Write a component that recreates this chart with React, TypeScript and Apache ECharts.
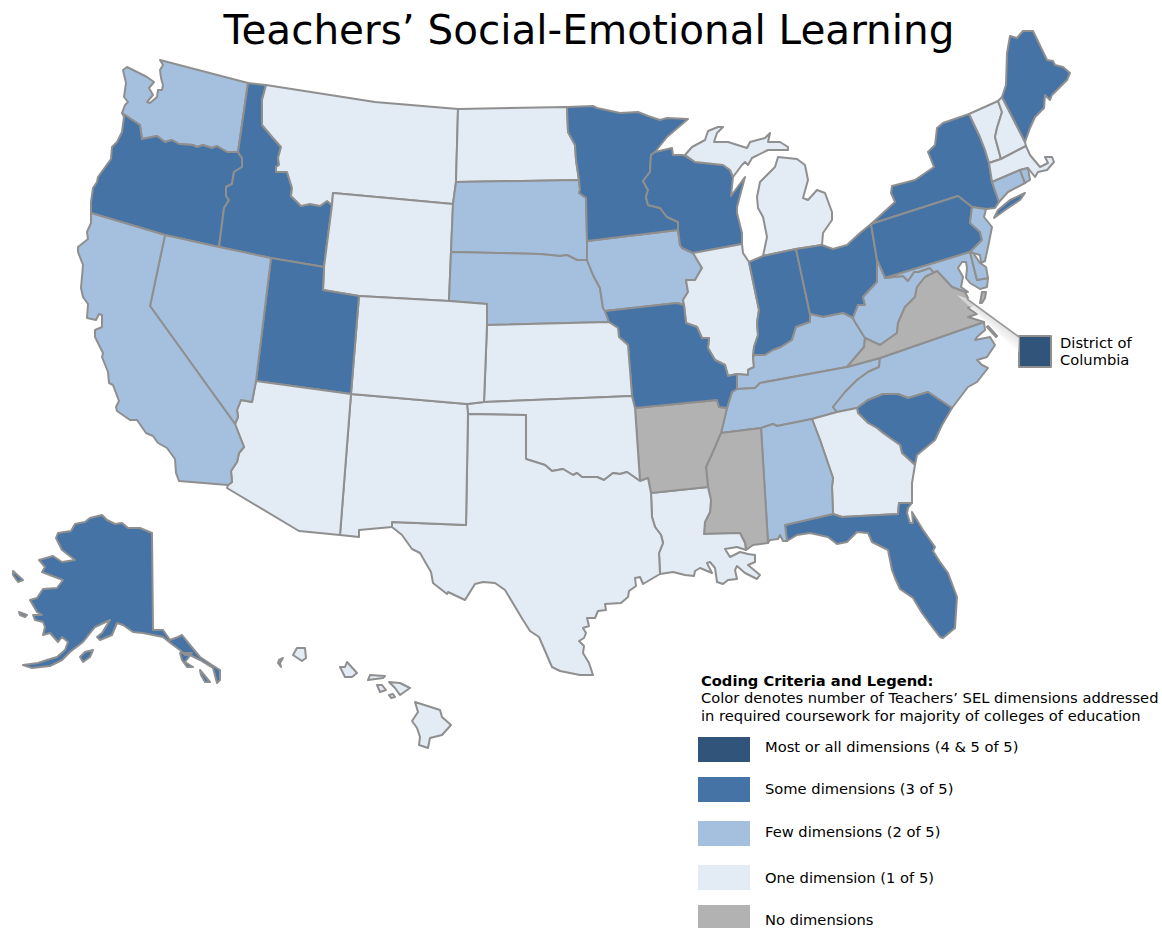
import React, { useEffect, useRef } from "react";
import * as echarts from "echarts";

type Pt = [number, number];

const TITLE = "Teachers’ Social-Emotional Learning";
const LEGEND_HEAD = "Coding Criteria and Legend:";
const LEGEND_SUB = [
  "Color denotes number of Teachers’ SEL dimensions addressed",
  "in required coursework for majority of colleges of education",
];
const LEGEND_LABELS = [
  "Most or all dimensions (4 & 5 of 5)",
  "Some dimensions (3 of 5)",
  "Few dimensions (2 of 5)",
  "One dimension (1 of 5)",
  "No dimensions",
];
const COLORS = ["#31547A", "#4573A5", "#A5C0DF", "#E3EBF5", "#B2B2B2"];

const mostStates = ["DC"];
const someStates = ["OR", "ID", "UT", "MN", "WI", "MO", "IN", "OH", "PA", "NY", "ME", "SC", "FL", "AK"];
const fewStates = ["WA", "CA", "NV", "SD", "NE", "IA", "KY", "WV", "TN", "NC", "AL", "MD", "DE", "NJ", "CT", "RI"];
const oneStates = ["MT", "ND", "WY", "CO", "KS", "OK", "TX", "NM", "AZ", "LA", "IL", "MI", "GA", "HI", "VT", "NH", "MA"];
const noneStates = ["AR", "MS", "VA"];

// Outlines, in page pixels.
const outlines: Record<string, Pt[][]> = {
  WA: [[[160,60],[163,65],[160,70],[161,78],[163,85],[162,90],[158,90],[157,97],[150,103],[147,102],[153,95],[149,88],[154,82],[147,77],[127,67],[123,70],[126,83],[124,97],[128,102],[125,105],[122,113],[140,125],[142,139],[157,136],[165,142],[172,140],[179,144],[193,145],[197,147],[203,145],[212,148],[217,146],[227,152],[238,152],[248,83]]],
  OR: [[[122,113],[140,125],[142,139],[157,136],[165,142],[172,140],[179,144],[193,145],[197,147],[203,145],[212,148],[217,146],[227,152],[238,152],[242,158],[242,167],[234,172],[232,184],[226,187],[226,196],[229,200],[224,208],[219,247],[165,235],[91,213],[91,202],[93,188],[97,182],[98,177],[111,159],[112,147],[117,142],[122,132],[124,117]]],
  ID: [[[248,83],[266,85],[262,100],[262,125],[273,138],[281,147],[278,158],[279,165],[276,167],[276,172],[287,172],[292,188],[291,196],[301,206],[310,204],[320,206],[327,201],[332,205],[324,267],[271,258],[219,247],[224,208],[229,200],[226,196],[226,187],[232,184],[234,172],[242,167],[242,158],[238,152]]],
  MT: [[[266,85],[375,102],[458,109],[456,182],[453,204],[333,193],[332,205],[327,201],[320,206],[310,204],[301,206],[291,196],[292,188],[287,172],[276,172],[276,167],[279,165],[278,158],[281,147],[273,138],[262,125],[262,100]]],
  WY: [[[333,193],[453,204],[451,252],[449,301],[359,296],[323,290],[324,267],[332,205]]],
  ND: [[[458,109],[567,107],[568,132],[575,145],[576,160],[579,180],[456,182]]],
  SD: [[[456,182],[579,180],[580,190],[579,193],[586,198],[587,241],[587,260],[577,260],[573,258],[567,255],[560,256],[540,254],[451,252],[453,204]]],
  NE: [[[451,252],[540,254],[560,256],[567,255],[573,258],[577,260],[587,260],[593,275],[600,288],[603,308],[605,311],[609,322],[487,325],[487,304],[449,301]]],
  IA: [[[587,241],[678,230],[680,245],[682,248],[693,253],[702,268],[695,280],[686,280],[688,292],[683,300],[684,305],[677,303],[605,311],[603,308],[600,288],[593,275],[587,260]]],
  MN: [[[567,107],[593,106],[597,108],[620,113],[638,112],[648,116],[660,120],[667,118],[688,119],[667,137],[655,152],[651,155],[650,172],[643,181],[648,190],[646,197],[648,205],[660,208],[667,217],[678,222],[678,230],[587,241],[586,198],[579,193],[580,190],[579,180],[576,160],[575,145],[568,132]]],
  WI: [[[655,152],[672,148],[673,155],[683,155],[695,162],[723,165],[730,170],[733,177],[731,196],[745,177],[737,207],[737,213],[742,233],[742,244],[693,253],[682,248],[680,245],[678,230],[678,222],[667,217],[660,208],[648,205],[646,197],[648,190],[643,181],[650,172],[651,155]]],
  MI: [
    [[685,155],[692,147],[705,140],[708,131],[718,127],[723,127],[717,133],[714,142],[728,142],[747,148],[750,142],[765,138],[770,133],[768,142],[780,142],[788,147],[788,150],[768,150],[752,158],[748,165],[745,162],[742,165],[733,177],[730,170],[723,165],[695,162]],
    [[778,157],[797,159],[805,165],[808,180],[803,198],[808,200],[817,190],[825,193],[832,212],[832,220],[823,233],[822,245],[796,249],[763,256],[767,237],[763,217],[758,208],[757,197],[760,182],[775,167]],
  ],
  IL: [[[693,253],[742,244],[743,253],[749,262],[759,310],[757,323],[758,335],[754,347],[753,357],[754,367],[748,370],[748,375],[737,374],[728,376],[725,365],[715,360],[708,348],[709,338],[702,338],[697,327],[686,323],[684,305],[683,300],[688,292],[686,280],[695,280],[702,268]]],
  IN: [[[749,262],[763,256],[796,249],[810,314],[810,322],[796,327],[792,340],[781,347],[773,350],[765,355],[755,355],[753,357],[754,347],[758,335],[757,323],[759,310]]],
  OH: [[[796,249],[822,245],[833,249],[847,245],[860,233],[871,224],[877,260],[877,282],[863,297],[865,305],[858,305],[853,318],[843,313],[823,317],[810,314]]],
  KY: [[[737,374],[748,375],[748,370],[754,367],[753,357],[755,355],[765,355],[773,350],[781,347],[792,340],[796,327],[810,322],[810,314],[823,317],[843,313],[853,318],[855,322],[865,338],[864,347],[847,367],[760,383],[755,388],[737,389]]],
  TN: [[[721,433],[761,428],[773,424],[777,426],[812,419],[837,412],[833,407],[845,392],[857,380],[868,372],[879,367],[880,358],[847,367],[760,383],[755,388],[737,389],[732,392],[727,408]]],
  NC: [
    [[837,412],[857,408],[868,400],[883,394],[898,394],[908,398],[928,392],[952,408],[968,387],[977,382],[988,368],[982,365],[977,360],[987,357],[995,345],[990,337],[975,340],[977,337],[985,330],[984,322],[880,358],[879,367],[868,372],[857,380],[845,392],[833,407]],
    [[988,326],[997,336],[996,337],[987,327]],
  ],
  SC: [[[857,408],[868,400],[883,394],[898,394],[908,398],[928,392],[952,408],[942,425],[935,440],[917,455],[915,465],[902,453],[900,445],[883,433],[877,428],[868,423],[858,413]]],
  GA: [[[812,419],[837,412],[857,408],[858,413],[868,423],[877,428],[883,433],[900,445],[902,453],[915,465],[912,483],[912,503],[899,503],[898,514],[842,517],[833,514],[832,487],[833,478],[820,440]]],
  FL: [
    [[785,525],[833,514],[842,517],[898,514],[899,503],[912,503],[908,508],[907,513],[910,523],[913,523],[912,512],[923,530],[935,547],[933,551],[940,562],[948,573],[957,597],[955,628],[943,638],[940,637],[933,628],[922,613],[913,598],[900,589],[895,578],[892,570],[888,550],[872,542],[868,533],[857,532],[847,542],[837,544],[828,537],[810,533],[797,535],[787,541]],
  ],
  AL: [[[761,428],[773,424],[777,426],[812,419],[820,440],[833,478],[832,487],[833,514],[785,525],[787,541],[783,541],[780,535],[778,539],[770,540],[768,543]]],
  MS: [[[721,433],[761,428],[768,543],[753,545],[746,550],[745,543],[740,533],[704,534],[705,522],[710,512],[711,500],[708,487],[706,467],[715,447],[720,435]]],
  LA: [[[651,493],[708,487],[711,500],[710,512],[705,522],[704,534],[740,533],[745,543],[746,550],[737,547],[725,549],[730,557],[740,552],[748,554],[755,555],[755,562],[748,565],[760,575],[757,579],[745,573],[737,566],[735,570],[737,579],[728,580],[723,584],[717,582],[715,568],[710,562],[707,563],[712,573],[700,568],[695,571],[694,576],[685,575],[673,572],[660,574],[659,553],[663,543],[661,535],[655,527],[652,517]]],
  AR: [[[635,408],[717,400],[719,407],[727,408],[721,433],[720,435],[715,447],[706,467],[708,487],[651,493],[648,478],[640,481]]],
  MO: [[[605,311],[677,303],[684,305],[686,323],[697,327],[702,338],[709,338],[708,348],[715,360],[725,365],[728,376],[737,374],[737,389],[732,392],[727,408],[719,407],[717,400],[635,408],[632,396],[628,345],[619,337],[618,328],[609,322]]],
  KS: [[[487,325],[609,322],[618,328],[619,337],[628,345],[632,396],[484,402]]],
  OK: [[[467,404],[484,402],[632,396],[635,408],[640,481],[627,472],[620,474],[613,473],[604,480],[597,477],[592,477],[582,477],[577,473],[573,475],[563,469],[552,471],[545,465],[526,459],[526,415],[468,414]]],
  TX: [[[468,414],[526,415],[526,459],[545,465],[552,471],[563,469],[573,475],[577,473],[582,477],[592,477],[597,477],[604,480],[613,473],[620,474],[627,472],[640,481],[648,478],[651,493],[652,517],[655,527],[661,535],[663,543],[659,553],[660,574],[643,584],[640,577],[635,578],[636,586],[629,591],[628,597],[621,603],[605,604],[606,610],[598,611],[595,618],[587,618],[589,626],[583,628],[586,633],[584,638],[579,641],[584,646],[583,653],[589,663],[593,675],[580,675],[560,671],[552,667],[539,637],[530,631],[523,620],[505,590],[495,583],[483,582],[475,584],[465,600],[448,592],[447,594],[433,583],[431,572],[420,553],[412,549],[402,535],[392,527],[392,522],[466,525]]],
  NM: [[[351,394],[467,404],[468,414],[466,525],[392,522],[392,527],[359,530],[359,537],[340,535]]],
  CO: [[[359,296],[449,301],[487,304],[487,325],[484,402],[467,404],[351,394]]],
  UT: [[[271,258],[324,267],[323,290],[359,296],[351,394],[256,381]]],
  AZ: [[[256,381],[351,394],[340,535],[299,531],[227,488],[228,485],[232,482],[231,471],[237,462],[239,453],[244,447],[235,424],[238,417],[237,410],[241,400],[252,402]]],
  NV: [[[165,235],[219,247],[271,258],[256,381],[252,402],[241,400],[237,410],[238,417],[235,424],[150,306]]],
  CA: [[[91,213],[165,235],[150,306],[235,424],[244,447],[239,453],[237,462],[231,471],[232,482],[228,485],[179,481],[176,473],[175,459],[167,448],[158,443],[153,436],[146,433],[137,420],[130,420],[117,411],[116,407],[119,401],[113,385],[109,383],[108,372],[102,357],[103,353],[95,337],[95,330],[102,327],[102,315],[99,314],[96,320],[87,318],[88,304],[83,297],[81,288],[83,265],[78,252],[78,247],[88,239],[87,232],[91,223]]],
  NY: [
    [[871,224],[895,202],[891,193],[892,186],[915,180],[934,167],[928,152],[935,145],[937,128],[943,123],[969,114],[980,137],[985,150],[989,163],[992,182],[999,202],[995,208],[986,209],[972,207],[958,196]],
    [[994,218],[998,210],[1010,200],[1025,193],[1020,200],[1008,208]],
  ],
  PA: [[[871,224],[958,196],[972,207],[970,223],[980,232],[982,240],[970,252],[885,278],[877,260]]],
  NJ: [[[972,207],[986,209],[984,217],[992,227],[988,247],[985,261],[981,263],[980,255],[973,253],[970,252],[982,240],[980,232],[970,223]]],
  WV: [[[877,260],[885,278],[903,276],[908,281],[914,272],[918,272],[930,268],[934,273],[925,277],[917,287],[915,297],[905,307],[898,323],[897,333],[880,345],[865,338],[855,322],[853,318],[858,305],[865,305],[863,297],[877,282]]],
  MD: [[[885,278],[970,252],[974,268],[977,280],[988,278],[987,287],[980,289],[970,283],[966,278],[967,268],[966,262],[962,262],[958,268],[963,277],[961,287],[968,292],[965,292],[952,287],[937,271],[934,273],[930,268],[918,272],[914,272],[908,281],[903,276]]],
  DE: [[[970,252],[973,253],[980,263],[986,267],[988,278],[977,280],[974,268]]],
  VA: [
    [[847,367],[864,347],[865,338],[880,345],[897,333],[898,323],[905,307],[915,297],[917,287],[925,277],[937,271],[952,287],[965,292],[968,298],[965,300],[973,305],[968,308],[977,314],[968,317],[984,322],[880,358]],
    [[980,303],[982,292],[986,292],[985,298],[982,303]],
  ],
  VT: [[[969,114],[998,101],[1002,112],[997,128],[995,137],[1001,159],[989,163],[985,150],[980,137]]],
  NH: [[[998,101],[1002,97],[1025,142],[1026,146],[1001,159],[995,137],[997,128],[1002,112]]],
  ME: [[[1002,97],[1006,85],[1007,53],[1010,36],[1017,38],[1023,31],[1033,31],[1047,60],[1053,61],[1055,65],[1063,67],[1070,73],[1067,80],[1052,95],[1050,100],[1045,95],[1044,108],[1035,117],[1030,128],[1025,142]]],
  MA: [[[989,163],[1001,159],[1026,146],[1030,155],[1040,167],[1048,163],[1045,157],[1052,157],[1054,162],[1047,170],[1038,172],[1035,177],[1028,168],[1020,170],[992,182]]],
  CT: [[[992,182],[1020,170],[1025,183],[1008,192],[999,202]]],
  RI: [[[1020,170],[1028,168],[1030,180],[1025,183]]],
  AK: [
    [[152,533],[140,528],[128,528],[122,523],[115,524],[107,520],[102,515],[90,518],[85,522],[75,524],[71,531],[58,533],[56,538],[62,550],[75,560],[62,562],[53,556],[39,560],[45,567],[42,572],[55,577],[63,580],[57,588],[43,589],[37,598],[30,600],[37,612],[42,615],[33,615],[35,620],[43,622],[45,627],[43,635],[50,633],[58,642],[62,637],[68,642],[65,650],[57,657],[47,660],[38,663],[23,665],[32,668],[50,666],[62,660],[70,652],[83,642],[95,627],[110,620],[102,633],[97,637],[100,640],[112,635],[117,623],[123,625],[133,632],[143,633],[153,635],[163,637],[173,645],[180,650],[185,655],[190,655],[200,660],[213,668],[217,683],[220,680],[220,670],[212,665],[200,657],[190,645],[182,635],[178,637],[170,640],[163,630],[153,630]],
    [[80,657],[85,652],[93,650],[90,657],[83,662]],
    [[180,653],[192,653],[185,662],[193,667],[187,667],[182,660]],
    [[200,670],[210,682],[205,682],[201,675]],
    [[13,571],[23,580],[18,582],[13,575]],
    [[19,612],[27,615],[25,617],[20,615]],
  ],
  HI: [
    [[293,655],[297,648],[305,648],[306,658],[302,661]],
    [[283,658],[280,663],[281,667],[278,663],[279,660]],
    [[340,667],[345,667],[347,662],[357,673],[352,677],[345,677]],
    [[368,680],[370,675],[385,676],[383,678]],
    [[377,685],[382,685],[386,690],[380,692]],
    [[389,695],[393,694],[395,697],[391,698]],
    [[389,682],[400,683],[410,688],[400,695],[395,688]],
    [[415,702],[440,710],[442,717],[451,725],[442,735],[430,738],[428,748],[419,745],[420,737],[417,728],[412,721],[418,712]],
  ],
  DC: [[[1019,336],[1051,336],[1051,367],[1019,367]]],
};

const groups: [string[], number][] = [
  [mostStates, 0],
  [someStates, 1],
  [fewStates, 2],
  [oneStates, 3],
  [noneStates, 4],
];

const closeRing = (r: Pt[]) => [...r, r[0]];

const geoJson = {
  type: "FeatureCollection",
  features: Object.keys(outlines).map((name) => ({
    type: "Feature",
    properties: { name },
    geometry: {
      type: "MultiPolygon",
      coordinates: outlines[name].map((r) => [closeRing(r)]),
    },
  })),
};

const FONT = "'DejaVu Sans', Verdana, sans-serif";
const TEXT_SIZE = "14.7px";

export default function App() {
  const ref = useRef<HTMLDivElement>(null);
  useEffect(() => {
    document.body.style.margin = "0";
    echarts.registerMap("usSel", geoJson as any);
    const chart = echarts.init(ref.current!, null, { renderer: "svg" });

    const data = groups.flatMap(([states, idx]) =>
      states.map((name) => ({
        name,
        value: 4 - idx,
        itemStyle: { areaColor: COLORS[idx] },
      }))
    );

    const legendRects = [
      [737, 25],
      [777, 25],
      [821, 25],
      [865, 25],
      [905, 23],
    ];
    const legendTextY = [746, 788, 831, 877, 919];

    const graphics: any[] = [
      {
        type: "text",
        z: 20,
        style: { x: 589, y: 30, text: TITLE, font: `40.5px ${FONT}`, fill: "#000", align: "center", verticalAlign: "middle" },
      },
      {
        type: "polygon",
        z: 20,
        shape: { points: [[957, 295], [968, 299], [1019, 337], [1019, 352]] },
        style: {
          fill: new echarts.graphic.LinearGradient(
            990, 315, 978, 331,
            [
              { offset: 0, color: "rgba(222,222,222,0.95)" },
              { offset: 1, color: "rgba(255,255,255,0)" },
            ],
            true
          ),
        },
      },
      { type: "line", z: 21, shape: { x1: 967, y1: 299, x2: 1019, y2: 337 }, style: { stroke: "#9a9a9a", lineWidth: 1.6 } },
      { type: "text", z: 21, style: { x: 1060, y: 342, text: "District of", font: `${TEXT_SIZE} ${FONT}`, fill: "#000", verticalAlign: "middle" } },
      { type: "text", z: 21, style: { x: 1060, y: 359, text: "Columbia", font: `${TEXT_SIZE} ${FONT}`, fill: "#000", verticalAlign: "middle" } },
      { type: "text", z: 21, style: { x: 701, y: 680, text: LEGEND_HEAD, font: `bold ${TEXT_SIZE} ${FONT}`, fill: "#000", verticalAlign: "middle" } },
      { type: "text", z: 21, style: { x: 701, y: 697, text: LEGEND_SUB[0], font: `${TEXT_SIZE} ${FONT}`, fill: "#000", verticalAlign: "middle" } },
      { type: "text", z: 21, style: { x: 701, y: 715, text: LEGEND_SUB[1], font: `${TEXT_SIZE} ${FONT}`, fill: "#000", verticalAlign: "middle" } },
    ];
    LEGEND_LABELS.forEach((label, i) => {
      graphics.push({
        type: "rect",
        z: 21,
        shape: { x: 698, y: legendRects[i][0], width: 52, height: legendRects[i][1] },
        style: { fill: COLORS[i] },
      });
      graphics.push({
        type: "text",
        z: 21,
        style: { x: 765, y: legendTextY[i], text: label, font: `${TEXT_SIZE} ${FONT}`, fill: "#000", verticalAlign: "middle" },
      });
    });

    chart.setOption({
      animation: false,
      backgroundColor: "#fff",
      tooltip: { show: false },
      series: [
        {
          type: "map",
          map: "usSel",
          projection: { project: (p: number[]) => p, unproject: (p: number[]) => p },
          boundingCoords: [[0, 0], [1162, 928]],
          left: 0,
          top: 0,
          width: 1162,
          height: 928,
          roam: false,
          silent: true,
          selectedMode: false,
          label: { show: false },
          emphasis: { disabled: true },
          itemStyle: { borderColor: "#8f8f8f", borderWidth: 2, borderJoin: "round" },
          data,
        },
      ],
      graphic: { elements: graphics },
    });
    return () => chart.dispose();
  }, []);
  return <div ref={ref} style={{ width: 1162, height: 928 }} />;
}
